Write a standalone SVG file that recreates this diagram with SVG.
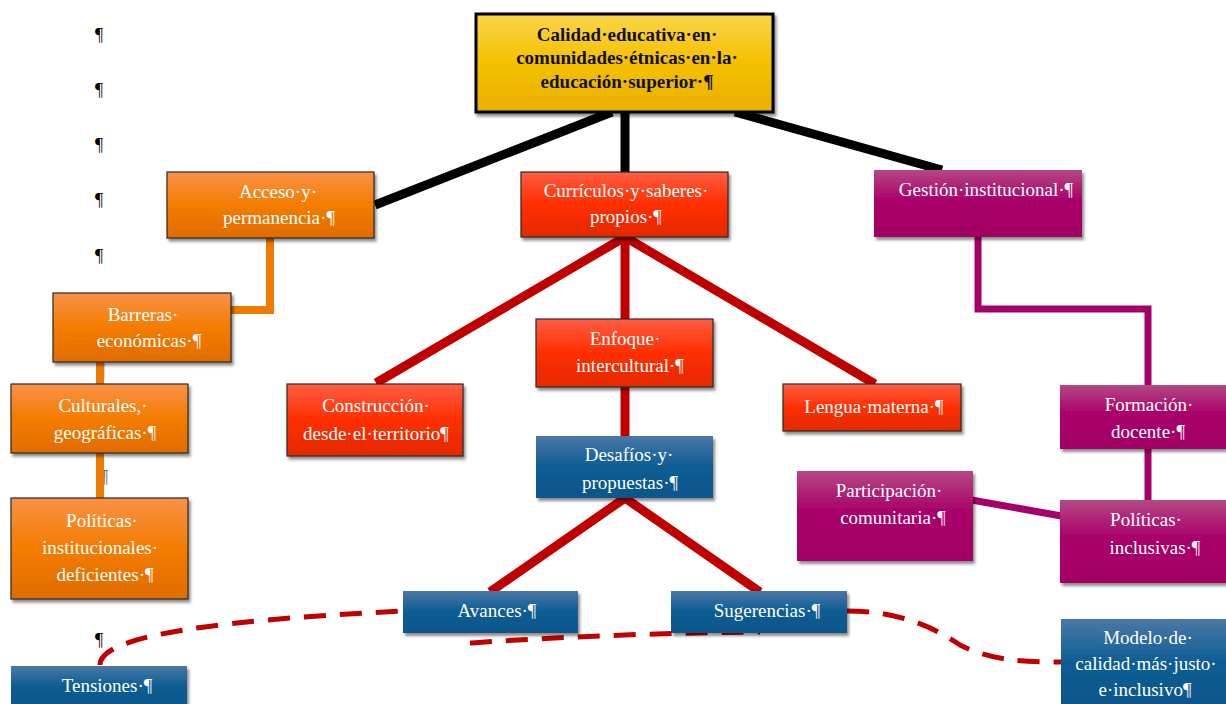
<svg xmlns="http://www.w3.org/2000/svg" width="1226" height="704" viewBox="0 0 1226 704">
<defs>
<linearGradient id="gGold" x1="0" y1="0" x2="0" y2="1"><stop offset="0" stop-color="#FAD54A"/><stop offset="0.5" stop-color="#F5C000"/><stop offset="1" stop-color="#E9B000"/></linearGradient>
<linearGradient id="gOr" x1="0" y1="0" x2="0" y2="1"><stop offset="0" stop-color="#F99248"/><stop offset="0.5" stop-color="#F47C00"/><stop offset="1" stop-color="#E06C00"/></linearGradient>
<linearGradient id="gRed" x1="0" y1="0" x2="0" y2="1"><stop offset="0" stop-color="#FF5E45"/><stop offset="0.5" stop-color="#FF2E00"/><stop offset="1" stop-color="#E42A00"/></linearGradient>
<linearGradient id="gMag" x1="0" y1="0" x2="0" y2="1"><stop offset="0" stop-color="#B44984"/><stop offset="0.45" stop-color="#A9006A"/><stop offset="1" stop-color="#A20064"/></linearGradient>
<linearGradient id="gBlue" x1="0" y1="0" x2="0" y2="1"><stop offset="0" stop-color="#4A78A6"/><stop offset="0.5" stop-color="#0C5C94"/><stop offset="1" stop-color="#0A568A"/></linearGradient>
<filter id="sh" x="-10%" y="-10%" width="125%" height="130%"><feDropShadow dx="2" dy="3" stdDeviation="1.5" flood-color="#000" flood-opacity="0.45"/></filter>
</defs>
<style>
text{font-family:"Liberation Serif","Times New Roman",serif;font-size:19px;fill:#fff;text-anchor:middle}
.t{font-size:19px;font-weight:bold;fill:#111}
.p{fill:#000;text-anchor:start;font-size:18px}
.bord{stroke:#2a2a2a;stroke-width:1.2}
.c{fill:none;stroke-linecap:butt}
.blk{stroke:#000;stroke-width:9}
.red{stroke:#C00000;stroke-width:9}
.org{stroke:#EE7A00;stroke-width:8}
.mag{stroke:#A50067;stroke-width:7}
.dash{stroke:#C00000;stroke-width:5;stroke-dasharray:22 14;fill:none}
</style>
<g id="marks">
<text class="p" x="95" y="41">¶</text>
<text class="p" x="95" y="96">¶</text>
<text class="p" x="95" y="151">¶</text>
<text class="p" x="95" y="206">¶</text>
<text class="p" x="95" y="262">¶</text>
<text class="p" x="95" y="646">¶</text>
<text class="p" x="97" y="377" style="fill:#666">¶</text>
<text class="p" x="100" y="483" style="fill:#666">¶</text>
</g>
<g id="connectors">
<path class="c blk" d="M612,112 L375,205"/>
<path class="c blk" d="M625,112 L625,172"/>
<path class="c blk" d="M735,112 L942,170"/>
<path class="c org" d="M270,238 L270,310 L231,310"/>
<path class="c org" d="M100,362 L100,384"/>
<path class="c org" d="M100,453 L100,498"/>
<path class="c red" d="M625,237 L376,383"/>
<path class="c red" d="M625,237 L625,320"/>
<path class="c red" d="M625,237 L875,384"/>
<path class="c red" d="M625,387 L625,436"/>
<path class="c red" d="M625,498 L490,592"/>
<path class="c red" d="M625,498 L760,592"/>
<path class="c mag" d="M978,237 L978,309 L1148,309 L1148,385"/>
<path class="c mag" d="M1148,449 L1148,500"/>
<path class="c mag" d="M966,499 L1073,518"/>
<path class="dash" d="M100,665 C100,640 180,622 403,611"/>
<path class="dash" d="M470,643 C560,637 650,633 760,632"/>
<path class="dash" d="M847,611 C900,611 935,628 960,645 C990,660 1020,662 1061,662"/>
</g>
<g id="n-calidad"><rect x="476" y="14" width="297" height="98" fill="url(#gGold)" stroke="#000" stroke-width="3" filter="url(#sh)"/>
<text class="t" x="627" y="41">Calidad·educativa·en·</text><text class="t" x="627" y="64">comunidades·étnicas·en·la·</text><text class="t" x="627" y="88">educación·superior·¶</text></g>
<g id="n-acceso"><rect x="167" y="172" width="207" height="66" fill="url(#gOr)" class="bord" filter="url(#sh)"/>
<text x="278" y="198">Acceso·y·</text><text x="279" y="224">permanencia·¶</text></g>
<g id="n-curriculos"><rect x="521" y="172" width="207" height="65" fill="url(#gRed)" class="bord" filter="url(#sh)"/>
<text x="626" y="197">Currículos·y·saberes·</text><text x="626" y="223">propios·¶</text></g>
<g id="n-gestion"><rect x="874" y="170" width="208" height="67" fill="url(#gMag)" filter="url(#sh)"/>
<text x="986" y="196">Gestión·institucional·¶</text></g>
<g id="n-barreras"><rect x="53" y="293" width="178" height="69" fill="url(#gOr)" class="bord" filter="url(#sh)"/>
<text x="143" y="321">Barreras·</text><text x="149" y="347">económicas·¶</text></g>
<g id="n-culturales"><rect x="11" y="384" width="177" height="69" fill="url(#gOr)" class="bord" filter="url(#sh)"/>
<text x="103" y="412">Culturales,·</text><text x="105" y="439">geográficas·¶</text></g>
<g id="n-politicas-inst"><rect x="11" y="498" width="177" height="101" fill="url(#gOr)" class="bord" filter="url(#sh)"/>
<text x="102" y="527">Políticas·</text><text x="100" y="554">institucionales·</text><text x="105" y="581">deficientes·¶</text></g>
<g id="n-construccion"><rect x="287" y="384" width="176" height="72" fill="url(#gRed)" class="bord" filter="url(#sh)"/>
<text x="376" y="412">Construcción·</text><text x="376" y="440">desde·el·territorio¶</text></g>
<g id="n-enfoque"><rect x="536" y="319" width="177" height="68" fill="url(#gRed)" class="bord" filter="url(#sh)"/>
<text x="625" y="345">Enfoque·</text><text x="630" y="372">intercultural·¶</text></g>
<g id="n-lengua"><rect x="783" y="384" width="178" height="47" fill="url(#gRed)" class="bord" filter="url(#sh)"/>
<text x="874" y="413">Lengua·materna·¶</text></g>
<g id="n-desafios"><rect x="536" y="436" width="177" height="62" fill="url(#gBlue)" filter="url(#sh)"/>
<text x="629" y="461">Desafíos·y·</text><text x="630" y="489">propuestas·¶</text></g>
<g id="n-avances"><rect x="403" y="591" width="175" height="42" fill="url(#gBlue)" filter="url(#sh)"/>
<text x="497" y="617">Avances·¶</text></g>
<g id="n-sugerencias"><rect x="671" y="591" width="176" height="42" fill="url(#gBlue)" filter="url(#sh)"/>
<text x="767" y="617">Sugerencias·¶</text></g>
<g id="n-tensiones"><rect x="11" y="666" width="176" height="42" fill="url(#gBlue)" filter="url(#sh)"/>
<text x="107" y="692">Tensiones·¶</text></g>
<g id="n-formacion"><rect x="1060" y="385" width="166" height="64" fill="url(#gMag)" filter="url(#sh)"/>
<text x="1149" y="411">Formación·</text><text x="1148" y="438">docente·¶</text></g>
<g id="n-participacion"><rect x="797" y="471" width="176" height="90" fill="url(#gMag)" filter="url(#sh)"/>
<text x="889" y="497">Participación·</text><text x="893" y="524">comunitaria·¶</text></g>
<g id="n-politicas-incl"><rect x="1060" y="500" width="166" height="83" fill="url(#gMag)" filter="url(#sh)"/>
<text x="1146" y="526">Políticas·</text><text x="1155" y="554">inclusivas·¶</text></g>
<g id="n-modelo"><rect x="1061" y="619" width="165" height="90" fill="url(#gBlue)" filter="url(#sh)"/>
<text x="1148" y="644">Modelo·de·</text><text x="1146" y="670">calidad·más·justo·</text><text x="1145" y="696">e·inclusivo¶</text></g>
</svg>
